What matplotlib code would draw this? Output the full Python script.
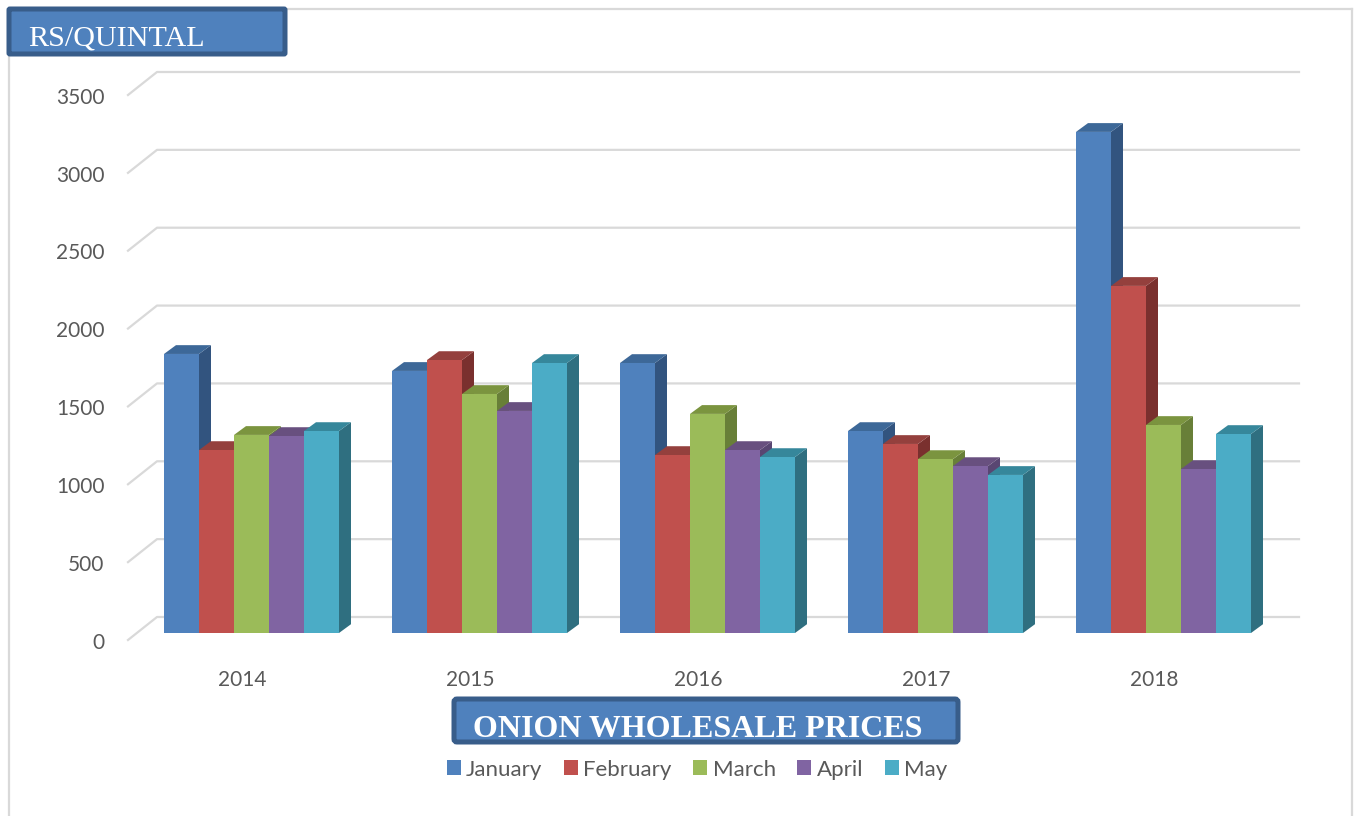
import matplotlib
matplotlib.use('Agg')
import matplotlib.pyplot as plt
from matplotlib.lines import Line2D
from matplotlib.patches import FancyBboxPatch, Polygon
from matplotlib.transforms import Affine2D

years = ['2014', '2015', '2016', '2017', '2018']
months = ['January', 'February', 'March', 'April', 'May']
january = [1792, 1683, 1734, 1297, 3218]
february = [1175, 1753, 1143, 1214, 2229]
march = [1272, 1535, 1407, 1117, 1336]
april = [1265, 1426, 1175, 1072, 1053]
may = [1297, 1734, 1130, 1015, 1278]
y_ticks = [0, 500, 1000, 1500, 2000, 2500, 3000, 3500]

front_colors = ['#4f81bd', '#c0504d', '#9bbb59', '#8064a2', '#4bacc6']
top_colors = ['#3d6898', '#94403d', '#7b943f', '#68507f', '#36879b']
side_colors = ['#32547f', '#7a302e', '#687f38', '#594672', '#2f6f80']
grid_color = '#d9d9d9'
text_color = '#595959'
box_fill = '#4f81bd'
box_edge = '#385d8a'

W, H = 1354, 816
fig = plt.figure(figsize=(W / 100, H / 100), dpi=100, facecolor='white')
# y-down pixel coordinates for the page furniture
px = Affine2D().scale(1, -1).translate(0, H)

ax = fig.add_axes([128 / W, 1 - 640 / H, (1299 - 128) / W, (640 - 95) / H])
ax.set_xlim(-0.5, (1299 - 242) / 228)
ax.set_ylim(0, 3500)
ax.patch.set_alpha(0)
for s in ax.spines.values():
    s.set_visible(False)

per_px_x = 1 / 228
per_px_y = 3500 / 545

# back wall grid lines with the short diagonal floor part
wall_dx = 29 * per_px_x
wall_dy = 23 * per_px_y
for v in y_ticks:
    ax.plot([-0.5, -0.5 + wall_dx, ax.get_xlim()[1]], [v, v + wall_dy, v + wall_dy],
            color=grid_color, lw=1.6, clip_on=False, zorder=1)

# 3D look: front from bar(), top and side faces as polygons
bar_w = 35 * per_px_x
depth_x = 12 * per_px_x
depth_y = 8.8 * per_px_y
base = 7 * per_px_y
shift = 9.5 * per_px_x - 2.5 * bar_w

series = [january, february, march, april, may]
for m, values in enumerate(series):
    z = 3 + m
    for i, val in enumerate(values):
        left = i + shift + m * bar_w
        right = left + bar_w
        top = base + val
        ax.add_patch(Polygon([(right, base), (right + depth_x, base + depth_y),
                              (right + depth_x, top + depth_y), (right, top)],
                             closed=True, facecolor=side_colors[m], edgecolor='none',
                             clip_on=False, zorder=z))
        ax.add_patch(Polygon([(left, top), (left + depth_x, top + depth_y),
                              (right + depth_x, top + depth_y), (right, top)],
                             closed=True, facecolor=top_colors[m], edgecolor='none',
                             clip_on=False, zorder=z))
    ax.bar([i + shift + (m + 0.5) * bar_w for i in range(len(years))], values, bar_w,
           bottom=base, color=front_colors[m], label=months[m], clip_on=False, zorder=z + 0.5)

font = ['Lato', 'DejaVu Sans']
ax.set_yticks(y_ticks)
ax.set_yticklabels([str(v) for v in y_ticks], fontsize=15, color=text_color, family=font)
ax.set_xticks(range(len(years)))
ax.set_xticklabels(years, fontsize=15, color=text_color, family=font)
ax.tick_params(axis='y', length=0, pad=17)
ax.tick_params(axis='x', length=0, pad=21.5)
# labels sit a touch lower than the tick position in the original
for lbl in ax.get_yticklabels():
    lbl.set_transform(lbl.get_transform() + Affine2D().translate(0, -0.7))

leg = ax.legend(loc='center', bbox_to_anchor=(697, 769.5), bbox_transform=px, ncol=5, frameon=False,
                handlelength=0.63, handleheight=0.63, handletextpad=0.25, columnspacing=0.96,
                prop={'family': font, 'size': 16}, borderpad=0, borderaxespad=0)
for t in leg.get_texts():
    t.set_color(text_color)

# page border
for xs, ys in [((9, 9), (50, H)), ((285, 1352), (9, 9)), ((1352, 1352), (9, H))]:
    fig.add_artist(Line2D(xs, ys, transform=px, color=grid_color, lw=1.6))

# title boxes
fig.add_artist(FancyBboxPatch((9, 9), 276, 45, boxstyle='round,pad=0,rounding_size=1',
                              transform=px, facecolor=box_fill, edgecolor=box_edge, lw=3.6, zorder=10))
fig.text(28, 46, 'RS/QUINTAL', transform=px, color='white', fontsize=21.7,
         family='Liberation Serif', va='baseline', ha='left', zorder=11)

fig.add_artist(FancyBboxPatch((454, 699), 504, 43, boxstyle='round,pad=0,rounding_size=3',
                              transform=px, facecolor=box_fill, edgecolor=box_edge, lw=3.6, zorder=10))
fig.text(473, 737, 'ONION WHOLESALE PRICES', transform=px, color='white', fontsize=23,
         fontweight='bold', family='Liberation Serif', va='baseline', ha='left', zorder=11)

fig.savefig('out.png', dpi=100)
